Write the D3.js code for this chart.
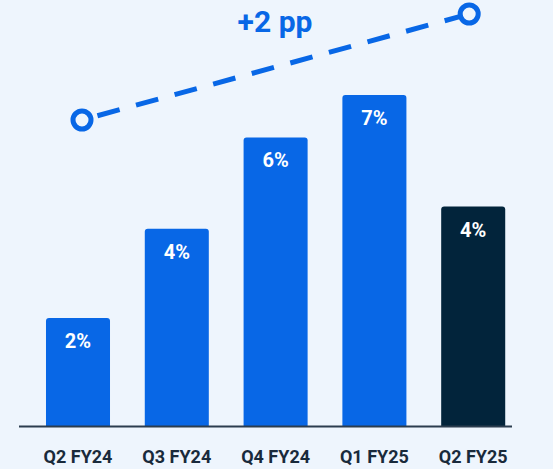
<!DOCTYPE html>
<html>
<head>
<meta charset="utf-8">
<script src="https://cdn.jsdelivr.net/npm/d3@7"></script>
<style>
  html, body { margin: 0; padding: 0; background: #eef5fd; }
  svg { display: block; font-family: Roboto, "Noto Sans", sans-serif; }
</style>
</head>
<body>
<svg id="chart"></svg>
<script>
// ---- data ----
const quarters = ["Q2 FY24", "Q3 FY24", "Q4 FY24", "Q1 FY25", "Q2 FY25"];
const growth = [2.0, 4.0, 6.05, 7.0, 4.5];
const growthLabels = ["2%", "4%", "6%", "7%", "4%"];
const trendQuarters = ["Q2 FY24", "Q2 FY25"];
const trendValues = [5, 7];
const trendLabel = "+2 pp";

const width = 553, height = 469;
const baseline = 426;

const svg = d3.select("#chart").attr("width", width).attr("height", height);

const x = d3.scaleBand()
  .domain(quarters)
  .range([28.6, 522.6])
  .paddingInner(0.352)
  .paddingOuter(0.176);

const y = d3.scaleLinear().domain([-0.42, 9.13]).range([baseline, 0]);
const yTrend = d3.scaleLinear().domain([5, 7]).range([120, 14]);

const blue = "#0867e6", dark = "#02243b";

// bars with rounded top corners
function barPath(x0, y0, w, h, r) {
  return `M${x0},${y0 + h}V${y0 + r}Q${x0},${y0} ${x0 + r},${y0}H${x0 + w - r}Q${x0 + w},${y0} ${x0 + w},${y0 + r}V${y0 + h}Z`;
}

svg.selectAll("path.bar")
  .data(quarters)
  .join("path")
    .attr("class", "bar")
    .attr("d", (d, i) => barPath(x(d), y(growth[i]), x.bandwidth(), baseline - y(growth[i]), 3))
    .attr("fill", (d, i) => i === quarters.length - 1 ? dark : blue);

svg.selectAll("text.val")
  .data(quarters)
  .join("text")
    .attr("class", "val")
    .attr("x", d => x(d) + x.bandwidth() / 2)
    .attr("y", (d, i) => y(growth[i]) + 30)
    .attr("text-anchor", "middle")
    .attr("fill", "#fff")
    .attr("font-size", "20px")
    .attr("font-weight", "bold")
    .text((d, i) => growthLabels[i]);

// baseline
svg.append("line")
  .attr("x1", 19).attr("x2", 512)
  .attr("y1", baseline + 0.5).attr("y2", baseline + 0.5)
  .attr("stroke", "#2b3d4f")
  .attr("stroke-width", 2);

// category labels
svg.selectAll("text.cat")
  .data(quarters)
  .join("text")
    .attr("class", "cat")
    .attr("x", d => x(d) + x.bandwidth() / 2)
    .attr("y", 463)
    .attr("text-anchor", "middle")
    .attr("fill", "#192a3b")
    .attr("font-size", "18px")
    .attr("font-weight", "bold")
    .text(d => d);

// trend line, ends pulled slightly inward from bar centres
const inset = 4;
const pts = trendQuarters.map((q, i) => [
  x(q) + x.bandwidth() / 2 + (i === 0 ? inset : -inset),
  yTrend(trendValues[i])
]);

svg.append("path")
  .attr("d", d3.line()(pts))
  .attr("fill", "none")
  .attr("stroke", blue)
  .attr("stroke-width", 5)
  .attr("stroke-dasharray", "23 17")
  .attr("stroke-dashoffset", -16);

svg.selectAll("circle.end")
  .data(pts)
  .join("circle")
    .attr("class", "end")
    .attr("cx", d => d[0])
    .attr("cy", d => d[1])
    .attr("r", 9)
    .attr("fill", "#eef5fd")
    .attr("stroke", blue)
    .attr("stroke-width", 5);

svg.append("text")
  .attr("x", 275)
  .attr("y", 32)
  .attr("text-anchor", "middle")
  .attr("fill", blue)
  .attr("font-size", "30px")
  .attr("font-weight", "bold")
  .text(trendLabel);
</script>
</body>
</html>
